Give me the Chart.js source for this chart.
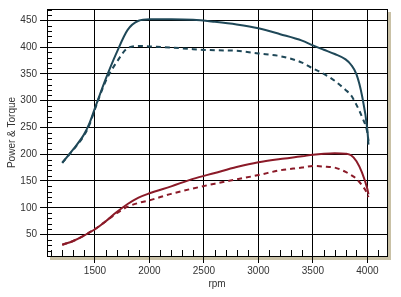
<!DOCTYPE html>
<html>
<head>
<meta charset="utf-8">
<script src="https://cdn.jsdelivr.net/npm/chart.js@4.4.1/dist/chart.umd.min.js"></script>
<style>
  html, body { margin: 0; padding: 0; background: #fff; }
  #wrap { width: 401px; height: 297px; }
</style>
</head>
<body>
<div id="wrap"><canvas id="myChart" width="401" height="297"></canvas></div>
<script>
// rpm grid
var rpm = [1200, 1300, 1400, 1450, 1500, 1600, 1700, 1800, 1900, 2000, 2200, 2400, 2600, 2800, 3000, 3200, 3400, 3500, 3600, 3700, 3800, 3850, 3900, 3950, 4000, 4010];

var torqueTuned = [184, 209, 237, 258, 286, 341, 390, 432, 449, 452, 452, 451, 447, 442, 435, 424, 412, 403, 395, 387, 377, 367, 349, 310, 245, 218];
var torqueStock = [184, 208, 235, 255, 284, 337, 372, 398, 402, 401, 399, 396, 394, 393, 388, 383, 371, 360, 350, 337, 320, 310, 292, 270, 240, 225];
var powerTuned  = [31, 38, 48, 54, 60, 75, 92, 107, 119, 127, 140, 154, 165, 176, 185, 191, 196, 199, 201, 202, 201, 198, 187, 166, 135, 125];
var powerStock  = [31, 38, 48, 54, 60, 75, 90, 102, 109, 114, 126, 136, 145, 153, 161, 170, 175, 178, 177, 175, 167, 161, 154, 142, 126, 120];

var yTicks = [50, 100, 150, 200, 250, 300, 350, 400, 450];
var xTicks = [1500, 2000, 2500, 3000, 3500, 4000];

function pts(arr) {
  return rpm.map(function(r, i) { return { x: r, y: arr[i] }; });
}

var torqueColor = '#1f4858';
var powerColor = '#8b1a28';

//----------------------------------------frame, shadow, minor ticks--------------------------------------//
var framePlugin = {
  id: 'frame',
  beforeDraw: function(chart) {
    var a = chart.chartArea;
    var ctx = chart.ctx;
    ctx.save();
    ctx.fillStyle = '#c9c1a6';
    ctx.fillRect(a.left + 3, a.bottom, a.right - a.left + 1, 4);
    ctx.fillRect(a.right, a.top + 3, 4, a.bottom - a.top + 1);
    ctx.restore();
  },
  beforeDatasetsDraw: function(chart) {
    var a = chart.chartArea;
    var ctx = chart.ctx;
    var xs = chart.scales.x, ys = chart.scales.y;
    ctx.save();
    ctx.strokeStyle = '#000';
    ctx.lineWidth = 1;
    ctx.strokeRect(Math.round(a.left) + 0.5, Math.round(a.top) + 0.5, Math.round(a.right - a.left), Math.round(a.bottom - a.top));
    ctx.beginPath();
    for (var v = 20; v < ys.max; v += 10) {
      if (v % 50 === 0) continue;
      var py = Math.round(ys.getPixelForValue(v)) + 0.5;
      ctx.moveTo(a.left, py);
      ctx.lineTo(a.left + 5, py);
    }
    for (var r = 1100; r < xs.max; r += 100) {
      if (r % 500 === 0) continue;
      var px = Math.round(xs.getPixelForValue(r)) + 0.5;
      ctx.moveTo(px, a.bottom);
      ctx.lineTo(px, a.bottom - 6);
    }
    ctx.stroke();
    ctx.restore();
  }
};

var font = { family: 'Liberation Sans, Arial, sans-serif', size: 10 };

var myChart = new Chart(document.getElementById('myChart'), {
  type: 'line',
  data: {
    datasets: [
      { label: 'Torque', data: pts(torqueTuned), borderColor: torqueColor, borderWidth: 2, cubicInterpolationMode: 'monotone' },
      { label: 'Torque stock', data: pts(torqueStock), borderColor: torqueColor, borderWidth: 2, borderDash: [5, 4], cubicInterpolationMode: 'monotone' },
      { label: 'Power', data: pts(powerTuned), borderColor: powerColor, borderWidth: 2, cubicInterpolationMode: 'monotone' },
      { label: 'Power stock', data: pts(powerStock), borderColor: powerColor, borderWidth: 2, borderDash: [5, 4], cubicInterpolationMode: 'monotone' }
    ]
  },
  options: {
    responsive: false,
    animation: false,
    events: [],
    layout: { padding: { top: 2, right: 14, left: 0, bottom: 0 } },
    elements: { point: { radius: 0 } },
    plugins: { legend: { display: false }, tooltip: { enabled: false } },
    scales: {
      x: {
        type: 'linear',
        min: 1060,
        max: 4180,
        afterBuildTicks: function(scale) { scale.ticks = xTicks.map(function(v) { return { value: v }; }); },
        afterFit: function(scale) { scale.height = 41; },
        ticks: { color: '#333', font: font, padding: 2, maxRotation: 0, callback: function(v) { return String(v); } },
        grid: { color: '#000', tickLength: 7, lineWidth: 1 },
        border: { color: '#000' },
        title: { display: true, text: 'rpm', color: '#333', font: font, padding: { top: 0, bottom: 7 } }
      },
      y: {
        min: 10,
        max: 471,
        afterBuildTicks: function(scale) { scale.ticks = yTicks.map(function(v) { return { value: v }; }); },
        afterFit: function(scale) { scale.width = 47; },
        ticks: { color: '#333', font: font, padding: 3, callback: function(v) { return String(v); } },
        grid: { color: '#000', tickLength: 7, lineWidth: 1 },
        border: { color: '#000' },
        title: { display: true, text: 'Power & Torque', color: '#333', font: font, padding: { top: 6, bottom: 0 } }
      }
    }
  },
  plugins: [framePlugin]
});
</script>
</body>
</html>
